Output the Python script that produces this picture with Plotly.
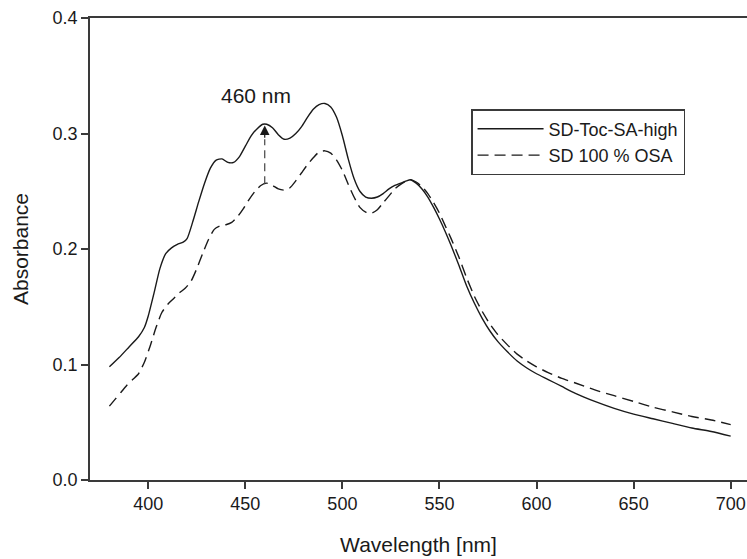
import plotly.graph_objects as go

# Wavelength (nm) and absorbance
wl_high = [380, 385, 390, 395, 398, 400, 403, 406, 409, 412, 415, 418, 420, 423, 426, 429,
           432, 435, 438, 441, 444, 447, 450, 453, 456, 459, 461, 464, 467, 470, 473, 476,
           479, 482, 485, 488, 491, 494, 497, 500, 503, 506, 509, 512, 515, 518, 521, 524,
           527, 530, 533, 535, 538, 541, 544, 547, 550, 553, 556, 560, 564, 568, 572, 576,
           580, 585, 590, 595, 600, 606, 613, 620, 630, 640, 650, 660, 670, 680, 690, 700]
abs_high = [0.098, 0.106, 0.115, 0.124, 0.132, 0.142, 0.162, 0.183, 0.196, 0.201, 0.204, 0.206,
            0.209, 0.224, 0.241, 0.257, 0.270, 0.277, 0.278, 0.275, 0.275, 0.280, 0.289, 0.298,
            0.304, 0.308, 0.308, 0.305, 0.299, 0.295, 0.296, 0.300, 0.306, 0.314, 0.321, 0.325,
            0.326, 0.323, 0.314, 0.298, 0.278, 0.261, 0.250, 0.245, 0.244, 0.245, 0.248, 0.252,
            0.255, 0.257, 0.259, 0.260, 0.257, 0.252, 0.245, 0.236, 0.226, 0.215, 0.203, 0.186,
            0.168, 0.153, 0.140, 0.129, 0.120, 0.111, 0.103, 0.097, 0.092, 0.087, 0.081, 0.075,
            0.068, 0.062, 0.057, 0.053, 0.049, 0.045, 0.042, 0.038]

wl_osa = [380, 383, 386, 389, 392, 395, 398, 401, 404, 407, 410, 413, 416, 419, 422, 425,
          428, 431, 434, 437, 440, 443, 446, 449, 452, 455, 458, 461, 464, 467, 470, 473,
          476, 479, 482, 485, 488, 491, 494, 497, 500, 503, 506, 509, 512, 515, 518, 521,
          524, 527, 530, 533, 535, 538, 541, 544, 547, 550, 553, 556, 560, 564, 568, 572,
          576, 580, 585, 590, 595, 600, 606, 613, 620, 630, 640, 650, 660, 670, 680, 690, 700]
abs_osa = [0.064, 0.070, 0.076, 0.082, 0.087, 0.092, 0.102, 0.116, 0.132, 0.145, 0.152, 0.157,
           0.162, 0.166, 0.172, 0.183, 0.196, 0.208, 0.217, 0.220, 0.221, 0.223, 0.228, 0.235,
           0.243, 0.250, 0.255, 0.257, 0.255, 0.252, 0.251, 0.253, 0.259, 0.266, 0.273, 0.279,
           0.284, 0.285, 0.283, 0.277, 0.268, 0.256, 0.245, 0.236, 0.232, 0.231, 0.234, 0.240,
           0.246, 0.252, 0.256, 0.259, 0.260, 0.258, 0.254, 0.248, 0.240, 0.231, 0.220, 0.209,
           0.193, 0.175, 0.159, 0.146, 0.135, 0.126, 0.117, 0.109, 0.103, 0.098, 0.093, 0.088,
           0.084, 0.078, 0.073, 0.068, 0.063, 0.059, 0.055, 0.052, 0.048]

series_names = ["SD-Toc-SA-high", "SD 100 % OSA"]
x_ticks = [400, 450, 500, 550, 600, 650, 700]
y_ticks = [0.0, 0.1, 0.2, 0.3, 0.4]
y_tick_labels = ["0.0", "0.1", "0.2", "0.3", "0.4"]

# Annotation for the 460 nm difference
marker_nm = 460
marker_from = 0.256
marker_head_base = 0.295
marker_to = 0.307
marker_label = "460 nm"
label_x = 455.7
label_y = 0.333

FONT = "Liberation Sans, Arial, sans-serif"
INK = "#1a1a1a"
AXIS = "#3a3a3a"

fig = go.Figure()
fig.add_trace(go.Scatter(x=wl_high, y=abs_high, mode="lines", name=series_names[0],
                         line=dict(color=INK, width=1.4, shape="spline", smoothing=0.6)))
fig.add_trace(go.Scatter(x=wl_osa, y=abs_osa, mode="lines", name=series_names[1],
                         line=dict(color=INK, width=1.4, dash="11px,6px", shape="spline",
                                   smoothing=0.6)))

# dashed shaft
fig.add_shape(type="line", xref="x", yref="y", x0=marker_nm, x1=marker_nm,
              y0=marker_from, y1=marker_head_base,
              line=dict(color="#444444", width=1.2, dash="8px,5px"))
# arrow head
fig.add_annotation(x=marker_nm, y=marker_to, ax=marker_nm, ay=marker_head_base,
                   xref="x", yref="y", axref="x", ayref="y", text="",
                   showarrow=True, arrowhead=2, arrowsize=1.6, arrowwidth=1.2,
                   arrowcolor=INK, standoff=0, startstandoff=0)
fig.add_annotation(x=label_x, y=label_y, xref="x", yref="y", text=marker_label,
                   showarrow=False, font=dict(family=FONT, size=21, color=INK))

fig.update_layout(
    width=747, height=559,
    margin=dict(l=90, r=0, t=18, b=79),
    paper_bgcolor="white", plot_bgcolor="white",
    font=dict(family=FONT, color=INK, size=18),
    showlegend=True,
    legend=dict(x=0.58, y=0.803, xanchor="left", yanchor="top",
                bgcolor="white", bordercolor=AXIS, borderwidth=1.5,
                font=dict(family=FONT, size=18, color=INK),
                tracegroupgap=0, itemwidth=66),
)
fig.update_xaxes(range=[370, 708.4], tickvals=x_ticks, ticks="outside", ticklen=7,
                 tickwidth=1.5, tickcolor=AXIS, showline=True, linecolor=AXIS, linewidth=1.5,
                 mirror=True, showgrid=False, zeroline=False,
                 tickfont=dict(family=FONT, size=18, color=INK),
                 title=dict(text="Wavelength [nm]", font=dict(family=FONT, size=21, color=INK),
                            standoff=24))
fig.update_yaxes(range=[0, 0.4], tickvals=y_ticks, ticktext=y_tick_labels, ticks="outside",
                 ticklen=7, tickwidth=1.5, tickcolor=AXIS, showline=True, linecolor=AXIS,
                 linewidth=1.5, mirror=False, showgrid=False, zeroline=False,
                 tickfont=dict(family=FONT, size=18, color=INK),
                 title=dict(text="Absorbance", font=dict(family=FONT, size=21, color=INK),
                            standoff=18))

fig.write_html("out.html", config={"displayModeBar": False},
               post_script="document.body.style.margin='0';document.body.style.padding='0';")
